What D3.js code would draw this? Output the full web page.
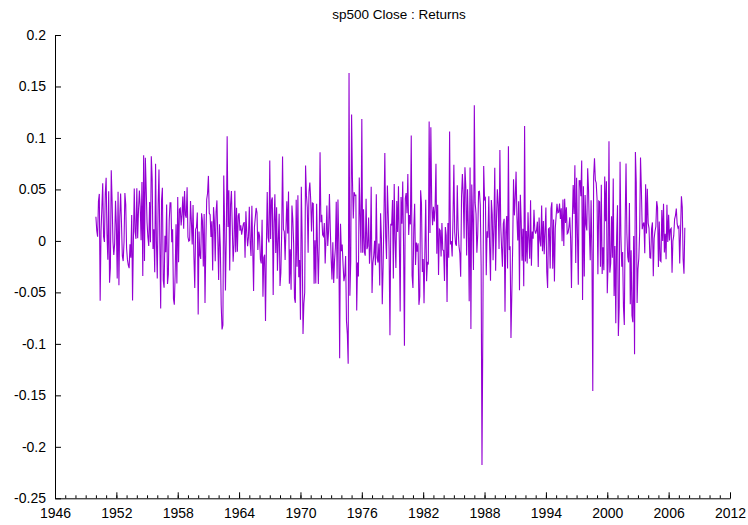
<!DOCTYPE html>
<html>
<head>
<meta charset="utf-8">
<script src="https://cdn.jsdelivr.net/npm/d3@7"></script>
<style>
  body { margin: 0; background: #fff; }
  svg text { font-family: "Liberation Sans", Arial, sans-serif; }
</style>
</head>
<body>
<div id="chart"></div>
<script>
// monthly S&P 500 closes, Jan..Dec of each year (last one ends Aug 2007)
const firstYear = 1950;
const baseClose = 16.66; // reference close before Jan 1950
const closes1950s = [
  17.05, 17.22, 17.29, 17.96, 18.78, 17.69, 17.84, 18.42, 19.45, 19.53, 19.51, 20.41,
  21.66, 21.80, 21.40, 22.43, 21.52, 20.96, 22.40, 23.28, 23.26, 22.94, 22.88, 23.77,
  24.14, 23.26, 24.37, 23.32, 23.86, 24.96, 25.40, 25.03, 24.54, 24.52, 25.66, 26.57,
  26.38, 25.90, 25.29, 24.62, 24.54, 24.14, 24.75, 23.32, 23.35, 24.54, 24.76, 24.81,
  26.08, 26.15, 26.94, 28.26, 29.19, 29.21, 30.88, 29.83, 32.31, 31.68, 34.24, 35.98,
  36.63, 36.76, 36.58, 37.96, 37.91, 41.03, 43.52, 43.18, 43.67, 42.34, 45.51, 45.48,
  43.82, 45.34, 48.48, 48.38, 45.20, 46.97, 49.39, 47.51, 45.35, 45.58, 45.08, 46.67,
  44.72, 43.26, 44.11, 45.74, 47.43, 47.37, 47.91, 45.22, 42.42, 41.06, 41.72, 39.99,
  41.70, 40.84, 42.10, 43.44, 44.09, 45.24, 47.19, 47.75, 50.06, 51.33, 52.48, 55.21,
  55.42, 55.41, 55.44, 57.59, 58.68, 58.47, 60.51, 59.60, 56.88, 57.52, 58.28, 59.89
];
const closes1960s = [
  55.61, 56.12, 55.34, 54.37, 55.83, 56.92, 55.51, 56.96, 53.52, 53.39, 55.54, 58.11,
  61.78, 63.44, 65.06, 65.31, 66.56, 64.64, 66.76, 68.07, 66.73, 68.62, 71.32, 71.55,
  68.84, 69.96, 69.55, 65.24, 59.63, 54.75, 58.23, 59.12, 56.27, 56.52, 62.26, 63.10,
  66.20, 64.29, 66.57, 69.80, 70.80, 69.37, 69.13, 72.50, 71.70, 74.01, 73.23, 75.02,
  77.04, 77.80, 78.98, 79.46, 80.37, 81.69, 83.18, 81.83, 84.18, 84.86, 84.42, 84.75,
  87.56, 87.43, 86.16, 89.11, 88.42, 84.12, 85.25, 87.17, 89.96, 92.42, 91.61, 92.43,
  92.88, 91.22, 89.23, 91.06, 86.13, 84.74, 83.60, 77.10, 76.56, 80.20, 80.45, 80.33,
  86.61, 86.78, 90.20, 94.01, 89.08, 90.64, 94.75, 93.64, 96.71, 93.90, 94.00, 96.47,
  92.24, 89.36, 90.20, 97.59, 98.68, 99.58, 97.74, 98.86, 102.67, 103.41, 108.37, 103.86,
  103.01, 98.13, 101.51, 103.69, 103.46, 97.71, 91.83, 95.51, 93.12, 97.24, 93.81, 92.06
];
const closes1970s = [
  85.02, 89.50, 89.63, 81.52, 76.55, 72.72, 78.05, 81.52, 84.21, 83.25, 87.20, 92.15,
  95.88, 96.75, 100.31, 103.95, 99.63, 99.70, 95.58, 99.03, 98.34, 94.23, 93.99, 102.09,
  103.94, 106.57, 107.20, 107.67, 109.53, 107.14, 107.39, 111.09, 110.55, 111.58, 116.67, 118.05,
  116.03, 111.68, 111.52, 106.97, 104.95, 104.26, 108.22, 104.25, 108.43, 108.29, 95.96, 97.55,
  96.57, 96.22, 93.98, 90.31, 87.28, 86.00, 79.31, 72.15, 63.54, 73.90, 69.97, 68.56,
  76.98, 81.59, 83.36, 87.30, 91.15, 95.19, 88.75, 86.88, 83.87, 89.04, 91.24, 90.19,
  100.86, 99.71, 102.77, 101.64, 100.18, 104.28, 103.44, 102.91, 105.24, 102.90, 102.10, 107.46,
  102.03, 99.82, 98.42, 98.44, 96.12, 100.48, 98.85, 96.77, 96.53, 92.34, 94.83, 95.10,
  89.25, 87.04, 89.21, 96.83, 97.24, 95.53, 100.68, 103.29, 102.54, 93.15, 94.70, 96.11,
  99.93, 96.28, 101.59, 101.76, 99.08, 102.91, 103.81, 109.32, 109.32, 101.82, 106.16, 107.94
];
const closes1980s = [
  114.16, 113.66, 102.09, 106.29, 111.24, 114.24, 121.67, 122.38, 125.46, 127.47, 140.52, 135.76,
  129.55, 131.27, 136.00, 132.81, 132.59, 131.21, 130.92, 122.79, 116.18, 121.89, 126.35, 122.55,
  120.40, 113.11, 111.96, 116.44, 111.88, 109.61, 107.09, 119.51, 120.42, 133.71, 138.54, 140.64,
  145.30, 148.06, 152.96, 164.42, 162.39, 168.11, 162.56, 164.40, 166.07, 163.55, 166.40, 164.93,
  163.41, 157.06, 159.18, 160.05, 150.55, 153.18, 150.66, 166.68, 166.10, 166.09, 163.58, 167.24,
  179.63, 181.18, 180.66, 179.83, 189.55, 191.85, 190.92, 188.63, 182.08, 189.82, 202.17, 211.28,
  211.78, 226.92, 238.90, 235.52, 247.35, 250.84, 236.12, 252.93, 231.32, 243.98, 249.22, 242.17,
  274.08, 284.20, 291.70, 288.36, 290.10, 304.00, 318.66, 329.80, 321.83, 251.79, 230.30, 247.08,
  257.07, 267.82, 258.89, 261.33, 262.16, 273.50, 272.02, 261.52, 271.91, 278.97, 273.70, 277.72,
  297.47, 288.86, 294.87, 309.64, 320.52, 317.98, 346.08, 351.45, 349.15, 340.36, 345.99, 353.40
];
const closes1990s = [
  329.08, 331.89, 339.94, 330.80, 361.23, 358.02, 356.15, 322.56, 306.05, 304.00, 322.22, 330.22,
  343.93, 367.07, 375.22, 375.34, 389.83, 371.16, 387.81, 395.43, 387.86, 392.46, 375.22, 417.09,
  408.79, 412.70, 403.69, 414.95, 415.35, 408.14, 424.21, 414.03, 417.80, 418.68, 431.35, 435.71,
  438.78, 443.38, 451.67, 440.19, 450.19, 450.53, 448.13, 463.56, 458.93, 467.83, 461.79, 466.45,
  481.61, 467.14, 445.77, 450.91, 456.50, 444.27, 458.26, 475.49, 462.69, 472.35, 453.69, 459.27,
  470.42, 487.39, 500.71, 514.71, 533.40, 544.75, 562.06, 561.88, 584.41, 581.50, 605.37, 615.93,
  636.02, 640.43, 645.50, 654.17, 669.12, 670.63, 639.95, 651.99, 687.31, 705.27, 757.02, 740.74,
  786.16, 790.82, 757.12, 801.34, 848.28, 885.14, 954.29, 899.47, 947.28, 914.62, 955.40, 970.43,
  980.28, 1049.34, 1101.75, 1111.75, 1090.82, 1133.84, 1120.67, 957.28, 1017.01, 1098.67, 1163.63, 1229.23,
  1279.64, 1238.33, 1286.37, 1335.18, 1301.84, 1372.71, 1328.72, 1320.41, 1282.71, 1362.93, 1388.91, 1469.25
];
const closes2000s = [
  1394.46, 1366.42, 1498.58, 1452.43, 1420.60, 1454.60, 1430.83, 1517.68, 1436.51, 1429.40, 1314.95, 1320.28,
  1366.01, 1239.94, 1160.33, 1249.46, 1255.82, 1224.42, 1211.23, 1133.58, 1040.94, 1059.78, 1139.45, 1148.08,
  1130.20, 1106.73, 1147.39, 1076.92, 1067.14, 989.82, 911.62, 916.07, 815.28, 885.76, 936.31, 879.82,
  855.70, 841.15, 848.18, 916.92, 963.59, 974.50, 990.31, 1008.01, 995.97, 1050.71, 1058.20, 1111.92,
  1131.13, 1144.94, 1126.21, 1107.30, 1120.68, 1140.84, 1101.72, 1104.24, 1114.58, 1130.20, 1173.82, 1211.92,
  1181.27, 1203.60, 1180.59, 1156.85, 1191.50, 1191.33, 1234.18, 1220.33, 1228.81, 1207.01, 1249.48, 1248.29,
  1280.08, 1280.66, 1294.83, 1310.61, 1270.09, 1270.20, 1276.66, 1303.82, 1335.85, 1377.94, 1400.63, 1418.30,
  1438.24, 1406.82, 1420.86, 1482.37, 1530.62, 1503.35, 1455.27, 1473.99
];

const xMajorTicks = [1946, 1952, 1958, 1964, 1970, 1976, 1982, 1988, 1994, 2000, 2006, 2012];
const yTicks = [-0.25, -0.2, -0.15, -0.1, -0.05, 0, 0.05, 0.1, 0.15, 0.2];
const titleText = "sp500 Close : Returns";

const W = 748, H = 525;
const plotLeft = 55, plotRight = 730, plotTop = 35, plotBottom = 498.3;

// returns from the closes
const closes = [].concat(closes1950s, closes1960s, closes1970s, closes1980s, closes1990s, closes2000s);
const data = closes.map((c, i) => ({
  t: firstYear + i / 12,
  r: c / (i === 0 ? baseClose : closes[i - 1]) - 1
}));

const svg = d3.select("#chart").append("svg")
  .attr("width", W)
  .attr("height", H);

const x = d3.scaleLinear().domain([1946, 2012]).range([plotLeft, plotRight]);
const y = d3.scaleLinear().domain([-0.25, 0.2]).range([plotBottom, plotTop]);

const fmt = d => String(+d.toFixed(2));

// minor year ticks
svg.append("g")
  .attr("transform", "translate(0," + plotBottom + ")")
  .call(d3.axisBottom(x).tickValues(d3.range(1946, 2013)).tickSizeInner(-3).tickSizeOuter(0).tickFormat(""))
  .call(g => g.select(".domain").remove());

const xAxis = svg.append("g")
  .attr("transform", "translate(0," + plotBottom + ")")
  .call(d3.axisBottom(x).tickValues(xMajorTicks).tickSizeInner(-6).tickSizeOuter(0)
    .tickPadding(10).tickFormat(d => String(d)));

const yAxis = svg.append("g")
  .attr("transform", "translate(" + plotLeft + ",0)")
  .call(d3.axisLeft(y).tickValues(yTicks).tickSizeInner(-6).tickSizeOuter(0)
    .tickPadding(9).tickFormat(fmt));

[xAxis, yAxis].forEach(g => {
  g.selectAll("text").attr("fill", "#000").style("font-size", "14px");
  g.selectAll("line, path").attr("stroke", "#000");
});

const line = d3.line()
  .x(d => x(d.t))
  .y(d => y(d.r));

svg.append("path")
  .datum(data)
  .attr("fill", "none")
  .attr("stroke", "#9400d3")
  .attr("stroke-width", 1.1)
  .attr("stroke-linejoin", "miter")
  .attr("d", line);

svg.append("text")
  .attr("x", 399)
  .attr("y", 19)
  .attr("text-anchor", "middle")
  .style("font-size", "13.5px")
  .text(titleText);
</script>
</body>
</html>
